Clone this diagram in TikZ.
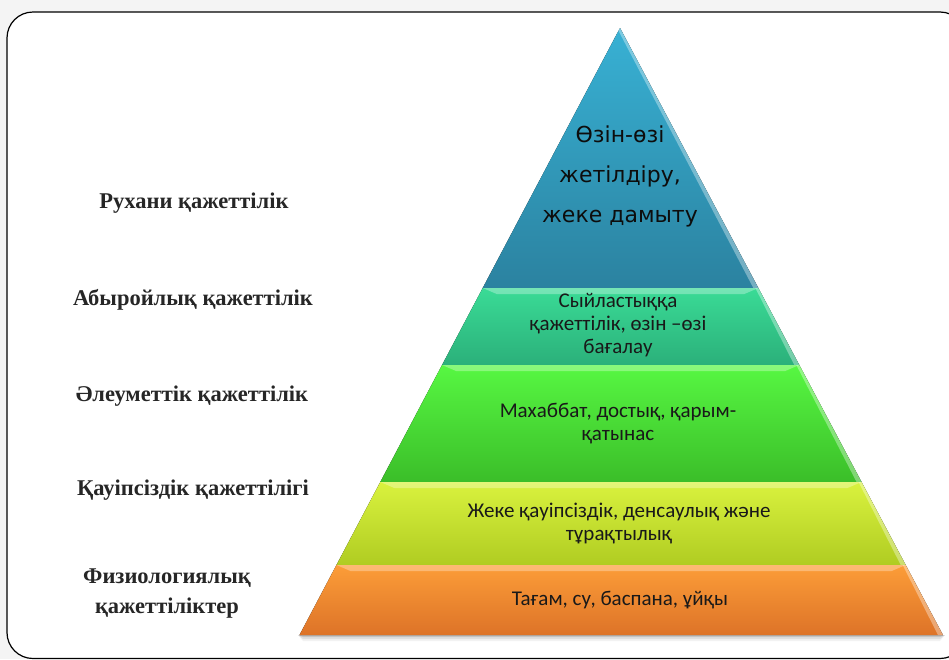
\documentclass[tikz,border=0pt]{standalone}
\usepackage{fontspec}
\setmainfont{Liberation Serif}
\newfontfamily\bandfont{Carlito}
\newfontfamily\peakfont{DejaVu Sans}
\usepackage{xcolor}
\usepackage{tikz}
\usetikzlibrary{positioning}

\definecolor{peakT}{HTML}{38B1D4}
\definecolor{peakB}{HTML}{2B82A0}
\definecolor{tealT}{HTML}{3ADB96}
\definecolor{tealB}{HTML}{2BB07A}
\definecolor{grnT}{HTML}{57F742}
\definecolor{grnB}{HTML}{3BBE29}
\definecolor{ylwT}{HTML}{D9F23E}
\definecolor{ylwB}{HTML}{B0CC22}
\definecolor{orgT}{HTML}{FC9D38}
\definecolor{orgB}{HTML}{DD7328}

\begin{document}
\begin{tikzpicture}[x=1pt,y=-1pt,
  lbl/.style={font=\bfseries\fontsize{22.5}{30}\selectfont,text=black!85,align=center},
  tier/.style={font=\bandfont\fontsize{21}{23}\selectfont,text=black!90,align=center},
  peak/.style={font=\peakfont\fontsize{22}{40}\selectfont,text=black!95,align=center}]
  \useasboundingbox (0,0) rectangle (949,659);
  \fill[gray!9] (0,0) rectangle (949,659);
  \draw[line width=1.2pt,fill=white,rounded corners=26pt] (7,12) rectangle (966,658.5);

  % shadow under the base
  \foreach \d/\o in {2/.12,4/.08,6/.05}
    \fill[black,opacity=\o] (298,635) -- (945,635) -- (940,635+\d) -- (303,635+\d) -- cycle;

  % tiers: top, bottom, colours
  \foreach \yt/\yb/\ct/\cb in {28/288/peakT/peakB,288/365/tealT/tealB,365/482/grnT/grnB,482/565/ylwT/ylwB,565/635/orgT/orgB}{
    \pgfmathsetmacro\xlt{620-0.528*(\yt-28)}
    \pgfmathsetmacro\xrt{620+0.532*(\yt-28)}
    \pgfmathsetmacro\xlb{620-0.528*(\yb-28)}
    \pgfmathsetmacro\xrb{620+0.532*(\yb-28)}
    \fill[top color=\ct,bottom color=\cb] (\xlt,\yt) -- (\xrt,\yt) -- (\xrb,\yb) -- (\xlb,\yb) -- cycle;
    \fill[white,opacity=.35] (\xrt,\yt) -- (\xrb,\yb) -- (\xrb-5,\yb) -- (\xrt-3,\yt) -- cycle;
    \ifnum\yt>28
      \fill[white,opacity=.3] (\xlt,\yt) -- (\xrt,\yt) -- (\xrt-14,\yt+6) -- (\xlt+14,\yt+6) -- cycle;
    \fi
  }

  % labels on the left
  \node[lbl] (spirit) at (194,203) {Рухани қажеттілік};
  \node[lbl] (esteem) at (193,300) {Абыройлық қажеттілік};
  \node[lbl] (social) at (192,396) {Әлеуметтік қажеттілік};
  \node[lbl] (safety) at (193,490) {Қауіпсіздік қажеттілігі};
  \node[lbl] (physio) at (167,594) {Физиологиялық\\қажеттіліктер};

  % texts in the tiers
  \node[tier] (respect) at (618,325) {Сыйластыққа\\қажеттілік, өзін –өзі\\бағалау};
  \node[peak] (selfdev) at (620,176) {Өзін-өзі\\жетілдіру,\\жеке дамыту};
  \node[tier] (love) at (618,424) {Махаббат, достық, қарым-\\қатынас};
  \node[tier] (secure) at (619,523) {Жеке қауіпсіздік, денсаулық және\\тұрақтылық};
  \node[tier] (food) at (620,600) {Тағам, су, баспана, ұйқы};
\end{tikzpicture}
\end{document}
